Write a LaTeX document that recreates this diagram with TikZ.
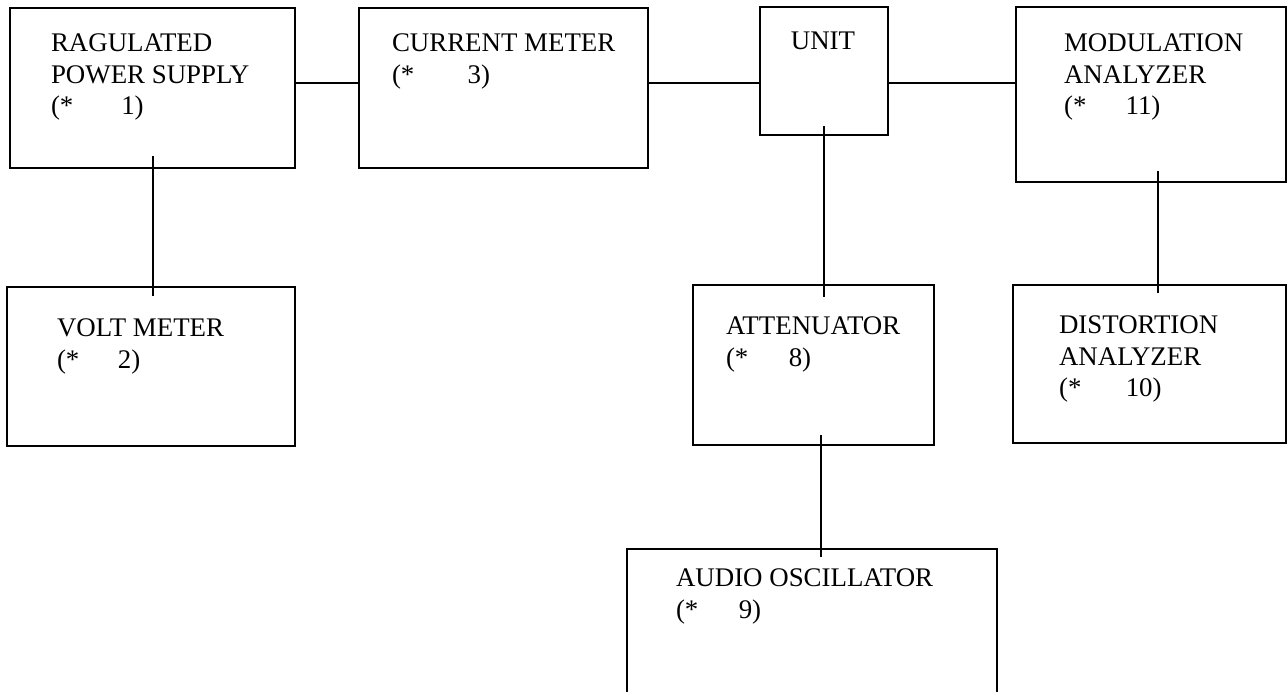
\documentclass[tikz,border=0pt]{standalone}
\usepackage{fontspec}
\setmainfont{Liberation Serif}
\usetikzlibrary{fit,calc}
\newcommand\starnum[2][36pt]{\makebox[#1][l]{(*}#2)}
\tikzset{
  blk/.style={draw, line width=1.5pt, inner sep=0pt, rectangle},
  conn/.style={draw, line width=1.5pt},
  lbl/.style={anchor=north west, align=left, inner sep=0pt, font=\fontsize{15.3}{17.9}\selectfont}
}
\begin{document}
\begin{tikzpicture}[x=0.02cm,y=-0.02cm]
\useasboundingbox (0,0) rectangle (1287,691);
\clip (0,0) rectangle (1287,691);
% boxes
\node[blk, fit={(10,8) (295,168)}] (ps) {};
\node[blk, fit={(359,8) (648,168)}] (cm) {};
\node[blk, fit={(760,7) (888,135)}] (unit) {};
\node[blk, fit={(1016,7) (1286,182)}] (mod) {};
\node[blk, fit={(7,287) (295,446)}] (vm) {};
\node[blk, fit={(693,285) (934,445)}] (att) {};
\node[blk, fit={(1013,285) (1286,443)}] (dist) {};
\node[blk, fit={(627,549) (997,705)}] (osc) {};
% labels
\node[lbl] (t1) at ($(ps.north west)+(42,27)$) {RAGULATED\\POWER SUPPLY\\\starnum[40pt]{1}};
\node[lbl] (t2) at ($(cm.north west)+(34,27)$) {CURRENT METER\\\starnum[43pt]{3}};
\node[lbl, anchor=north] (t3) at ($(unit.north)+(-1,26)$) {UNIT};
\node[lbl] (t4) at ($(mod.north west)+(49,28)$) {MODULATION\\ANALYZER\\\starnum[35pt]{11}};
\node[lbl] (t5) at ($(vm.north west)+(51,33)$) {VOLT METER\\\starnum[34.6pt]{2}};
\node[lbl] (t6) at ($(att.north west)+(34,33)$) {ATTENUATOR\\\starnum[35.7pt]{8}};
\node[lbl] (t7) at ($(dist.north west)+(47,32)$) {DISTORTION\\ANALYZER\\\starnum[38pt]{10}};
\node[lbl] (t8) at ($(osc.north west)+(50,21)$) {AUDIO OSCILLATOR\\\starnum[35.7pt]{9}};
% connectors
\draw[conn] ($(ps.south)+(0.5,-13)$) coordinate (a1) -- ($(a1 |- vm.north)+(0,10)$);
\draw[conn] ($(ps.east)+(0,-5)$) coordinate (h1) -- (cm.west |- h1);
\draw[conn] (cm.east |- h1) -- (unit.west |- h1);
\draw[conn] (unit.east |- h1) -- (mod.west |- h1);
\draw[conn] ($(unit.south)+(0,-10)$) coordinate (a2) -- ($(a2 |- att.north)+(0,13)$);
\draw[conn] ($(att.south)+(7.5,-11)$) coordinate (a3) -- ($(a3 |- osc.north)+(0,9)$);
\draw[conn] ($(mod.south)+(7,-12)$) coordinate (a4) -- ($(a4 |- dist.north)+(0,9)$);
\end{tikzpicture}
\end{document}
